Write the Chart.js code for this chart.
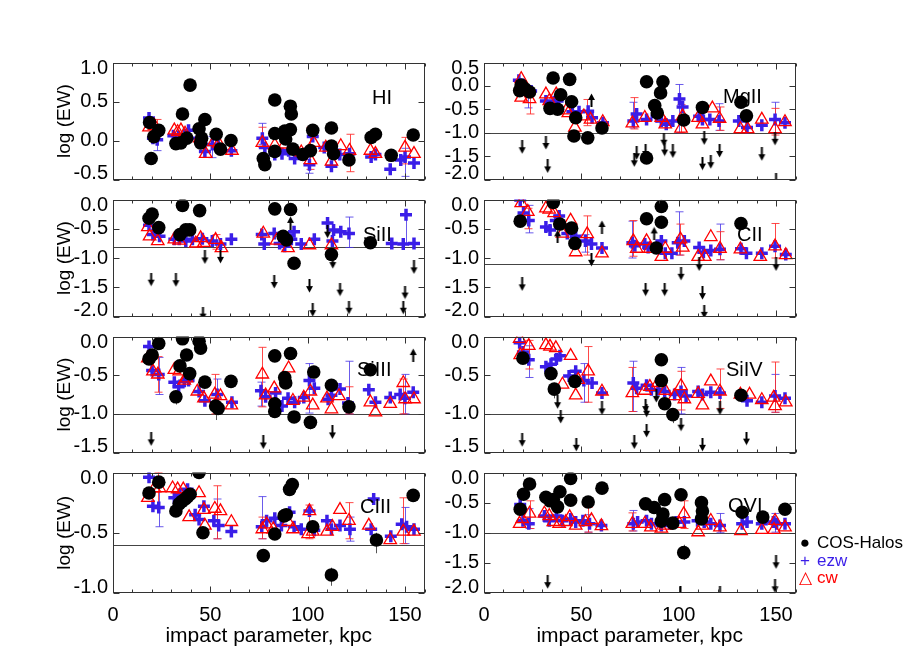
<!DOCTYPE html>
<html>
<head>
<meta charset="utf-8">
<script src="https://cdn.jsdelivr.net/npm/chart.js@4/dist/chart.umd.min.js"></script>
<style>
  html, body { margin: 0; padding: 0; background: #fff; }
  #fig { position: relative; width: 913px; height: 653px; overflow: hidden; font-family: 'Liberation Sans', Arial, Helvetica, sans-serif; }
  .ion { position: absolute; font-size: 20px; line-height: 20px; color: #000; white-space: nowrap; }
  .leg { position: absolute; font-size: 17px; line-height: 17px; white-space: nowrap; }
</style>
</head>
<body>
<div id="fig"></div>
<script>
// impact parameter (kpc) vs log(EW), one set of arrays per ion
const hiCos = [[18.8,0.23],[19.6,-0.23],[21,0.05],[23.5,0.13],[32.3,-0.04],[34.9,-0.03],[35.7,0.34],[37.9,0.03],[39.6,0.71],[44.2,0.15],[45.5,0.03],[45,-0.03],[47.2,0.27],[53,0.08],[55.2,-0.11],[60.6,0.0],[77.2,-0.23],[78,-0.31],[83.1,0.52],[83.1,0.09],[83.1,-0.14],[88.2,0.12],[88.7,0.02],[91.1,0.44],[91.6,0.34],[91.1,0.14],[92.4,-0.11],[97.5,-0.18],[101.4,-0.13],[102.6,0.13],[112.2,0.16],[112.2,-0.07],[113.3,-0.17],[121.2,-0.25],[132.6,0.04],[134.8,0.08],[142.9,-0.19],[154.2,0.07]];
const hiEzw = [[18.5,0.29],[20.5,0.03],[22.7,0.01],[31,0.06],[33.7,0.05],[38.8,0.13],[44.2,0.03],[47.2,-0.14],[51,-0.05],[54,-0.07],[60.8,-0.13],[76.7,0.03],[78,-0.09],[83.1,-0.18],[86.8,-0.17],[90.2,-0.13],[93.3,-0.23],[98.4,-0.17],[100.9,-0.31],[102.6,0.05],[108.5,-0.09],[112.2,-0.33],[116.5,-0.18],[121.5,-0.17],[132.6,-0.21],[134.8,-0.18],[142.4,-0.37],[147.8,-0.25],[150,-0.21],[154.6,-0.29]];
const hiCw = [[18.5,0.17],[21.3,0.19],[31.5,0.13],[33.2,0.11],[34.9,0.13],[37,0.09],[44.5,0.03],[47.6,-0.17],[51.8,-0.02],[54.3,-0.04],[61.1,-0.13],[76.7,-0.03],[83.1,-0.06],[88.2,-0.05],[96.7,-0.15],[101.4,-0.25],[103.1,-0.03],[109.3,-0.09],[112.2,-0.27],[117,-0.07],[121.5,-0.13],[132.2,-0.13],[134.8,-0.17],[150,-0.09],[154.6,-0.17]];
const hiEzwErr = [[22.7,-0.13,0.05],[51,-0.22,0.05],[76.7,-0.05,0.22],[100.9,-0.42,-0.2],[150,-0.46,-0.1]];
const hiCwErr = [[22.7,0.0,0.27],[76.7,-0.09,0.17],[101.4,-0.37,0.17],[121.5,-0.4,0.08],[150,-0.3,0.04]];

const mgCos = [[18.3,-0.10],[19.1,0.02],[21,-0.06],[23.4,-0.13],[33.9,-0.48],[35.5,0.17],[37.8,-0.50],[39.4,-0.19],[44,0.14],[45,-0.34],[46.2,-1.07],[47.1,-0.68],[53.3,-1.11],[60.6,-0.90],[83.5,0.09],[83.5,-1.54],[87.7,-0.42],[89,-0.58],[90.7,-0.15],[91.9,0.09],[102.6,-0.73],[112.2,-0.46],[132,-0.35],[134.8,-0.64]];
const mgEzw = [[17.9,0.12],[21.7,-0.05],[24.2,-0.11],[31.8,-0.32],[36,-0.34],[37.8,-0.32],[45.4,-0.55],[48.8,-0.55],[53.5,-0.54],[55.5,-0.68],[61.1,-0.79],[76.7,-0.75],[78.4,-0.60],[83.5,-0.72],[88.6,-0.65],[91.1,-0.75],[93.6,-0.82],[97,-0.75],[100.4,-0.28],[102,-0.45],[110.5,-0.65],[112.2,-0.72],[116,-0.72],[120.7,-0.75],[130.9,-0.75],[135.1,-0.89],[142.7,-0.84],[149.5,-0.72],[154.6,-0.79]];
const mgCw = [[19.1,0.15],[19.1,-0.25],[23.4,-0.28],[31.8,-0.18],[33.5,-0.32],[37.1,-0.18],[42.3,-0.52],[43.3,-0.58],[46.7,-0.89],[51.3,-0.65],[54.7,-0.72],[61,-0.77],[76.2,-0.80],[82.6,-0.68],[91.1,-0.68],[93.1,-0.82],[101.2,-0.91],[102,-0.65],[110,-0.68],[112.2,-0.82],[117.3,-0.48],[121,-0.70],[131.7,-0.92],[135.4,-0.92],[142.7,-0.72],[149.5,-0.92],[154.6,-0.77]];
const mgDown = [[19.6,-1.31],[31.8,-1.22],[32.7,-1.72],[77.2,-1.59],[78.4,-1.44],[83,-1.39],[92.4,-1.15],[92.8,-1.36],[97,-1.40],[112.2,-1.66],[113.1,-1.12],[116.5,-1.63],[121,-1.39],[142.7,-1.46],[149.5,-1.13],[150,-2.02]];
const mgUp = [[55.2,-0.30]];
const mgEzwErr = [[22.5,-0.47,0.0],[76.7,-0.9,-0.35],[100.4,-1.0,0.03],[120.7,-0.95,-0.38],[149.5,-1.0,-0.35]];
const mgCwErr = [[23.4,-0.6,-0.1],[53,-0.85,-0.29],[77.2,-0.92,-0.25],[101.2,-1.0,-0.4],[121,-0.95,-0.45],[149.5,-1.05,-0.48]];

const siiCos = [[18.5,-0.32],[20.1,-0.25],[23.5,-0.48],[34.4,-0.60],[35.7,-0.10],[37.4,-0.52],[39.4,-0.52],[44.5,-0.19],[83.1,-0.16],[87.4,-0.63],[89.1,-0.69],[91.2,-0.17],[93,-1.09],[112.2,-0.94],[132.2,-0.74]];
const siiEzw = [[18.5,-0.44],[20.5,-0.60],[23.9,-0.63],[31.5,-0.68],[34,-0.68],[37.4,-0.71],[40.8,-0.68],[45.9,-0.67],[51,-0.71],[55.2,-0.76],[60.8,-0.68],[76.4,-0.60],[77.7,-0.76],[82.8,-0.58],[85.6,-0.75],[88.2,-0.80],[91.6,-0.68],[93,-0.55],[96.7,-0.76],[103.4,-0.68],[110.2,-0.40],[112.7,-0.71],[113.3,-0.52],[117,-0.55],[121.2,-0.58],[143.2,-0.75],[149.1,-0.76],[150.5,-0.26],[154.6,-0.75]];
const siiCw = [[17.9,-0.47],[18.8,-0.63],[23,-0.71],[31.5,-0.68],[34,-0.70],[42.5,-0.75],[45,-0.66],[46.7,-0.74],[52.7,-0.69],[55.7,-0.83],[77.2,-0.58],[84,-0.70],[89.9,-0.83],[100.9,-0.78],[112.2,-0.78]];
const siiDown = [[19.6,-1.37],[32.3,-1.38],[46.2,-1.95],[47.2,-0.99],[55.2,-0.98],[82.8,-1.41],[100.9,-1.48],[102.6,-1.89],[110.2,-0.55],[112.9,-1.07],[116.6,-1.54],[121.2,-1.85],[150,-1.59],[149.1,-1.85],[154.6,-1.16]];
const siiUp = [[91.2,-0.40]];
const siiEzwErr = [[121.2,-0.82,-0.30],[150.5,-0.76,-0.26]];
const siiCwErr = [[52.7,-0.85,-0.6]];

const ciiCos = [[18.6,-0.37],[35.6,-0.05],[38.9,-0.42],[45,-0.49],[46.7,-0.75],[83.5,-0.33],[88.5,-0.83],[91.1,-0.12],[91.1,-0.39],[132,-0.41]];
const ciiEzw = [[18.6,-0.01],[20.3,-0.23],[23,-0.36],[31.8,-0.47],[33.9,-0.52],[36.9,-0.36],[38.6,-0.28],[42.8,-0.58],[47.1,-0.63],[52.1,-0.71],[55.2,-0.76],[60.6,-0.83],[76.2,-0.74],[77.5,-0.79],[82.6,-0.76],[84.3,-0.82],[91.1,-0.71],[93.1,-0.92],[96.5,-0.92],[99.5,-0.74],[102.9,-0.71],[110.5,-0.82],[112.7,-0.90],[116.5,-0.87],[121.2,-0.85],[132,-0.84],[134.8,-0.92],[142.7,-0.92],[149.5,-0.80],[155,-0.94]];
const ciiCw = [[19.1,-0.06],[22.5,-0.21],[31.8,-0.15],[33.5,-0.17],[36,-0.23],[40.3,-0.58],[44.5,-0.36],[47.1,-0.90],[53,-0.59],[60.6,-0.92],[76.7,-0.71],[78.4,-0.84],[83.5,-0.71],[85.2,-0.84],[91.1,-0.98],[93.1,-0.84],[100.9,-0.68],[102.1,-0.82],[110,-0.98],[113.4,-0.98],[116.5,-0.64],[121.2,-0.84],[131.7,-0.85],[141.9,-0.98],[149.5,-0.80],[155,-0.95]];
const ciiDown = [[19.6,-1.45],[55.2,-1.03],[83,-1.54],[92.8,-1.54],[101.2,-1.27],[110.5,-1.11],[112.2,-1.60],[113.1,-1.92],[150,-1.11]];
const ciiUp = [[37.8,-0.63],[60.6,-0.47],[87.4,-0.58]];
const ciiEzwErr = [[23,-0.57,-0.1],[52.1,-0.9,-0.6],[76.2,-1.0,-0.37],[100.4,-0.95,-0.21],[121.2,-1.03,-0.42]];
const ciiCwErr = [[22.5,-0.5,-0.15],[53,-0.95,-0.28],[76.7,-0.97,-0.36],[100.9,-0.95,-0.42],[121.2,-1.03,-0.55],[149.5,-1.0,-0.41]];

const siiiCos = [[18.5,-0.29],[20.1,-0.24],[23.5,-0.09],[32.3,-0.78],[34.4,-0.38],[35.7,-0.03],[37.8,-0.24],[39.4,-0.48],[44.2,-0.06],[45,-0.15],[47.2,-0.59],[52.7,-0.90],[54,-0.93],[60.6,-0.58],[83.1,-0.87],[83.1,-0.97],[83.1,-0.25],[88.2,-0.53],[88.7,-0.60],[91.2,-0.22],[93,-1.04],[101.4,-1.11],[103.1,-0.46],[112.2,-0.63],[121.2,-0.91],[132.2,-0.43]];
const siiiEzw = [[18.5,-0.13],[20.1,-0.44],[23.5,-0.49],[31.5,-0.59],[33.7,-0.65],[36.6,-0.58],[38.8,-0.57],[44.2,-0.71],[47.2,-0.83],[53.5,-0.75],[61.1,-0.85],[76,-0.70],[78.4,-0.78],[83.5,-0.73],[86.8,-0.90],[89.9,-0.80],[93.3,-0.85],[98,-0.79],[100.9,-0.57],[103.4,-0.67],[110.5,-0.81],[112.2,-0.76],[116.6,-0.68],[120.7,-0.86],[131.4,-0.69],[134.8,-0.85],[142.4,-0.79],[147.5,-0.75],[150,-0.80],[154.2,-0.72]];
const siiiCw = [[17.9,-0.28],[20.5,-0.45],[23,-0.49],[31.5,-0.43],[34,-0.45],[36.6,-0.57],[37.8,-0.54],[43.3,-0.71],[46.7,-0.80],[52.3,-0.75],[55.2,-0.77],[60.8,-0.89],[76.7,-0.49],[78.4,-0.76],[82.8,-0.67],[90.2,-0.41],[92.4,-0.83],[98,-0.79],[101.4,-0.71],[102.6,-0.89],[109.9,-0.80],[112.2,-0.94],[116.1,-0.77],[132.2,-0.85],[134.8,-0.98],[142.4,-0.87],[149.1,-0.60],[150,-0.81],[154.6,-0.81]];
const siiiDown = [[19.6,-1.33],[77.2,-1.37],[112.7,-1.24]];
const siiiUp = [[154.2,-0.24]];
const siiiEzwErr = [[23.5,-0.75,-0.27],[53.5,-0.95,-0.55],[76,-0.9,-0.59],[100.9,-0.99,-0.35],[121.2,-1.0,-0.32],[150,-1.0,-0.49]];
const siiiCwErr = [[23,-0.72,-0.26],[52.3,-1.0,-0.49],[76.7,-0.91,-0.14],[121.2,-1.0,-0.65],[149.1,-1.0,-0.55]];
const siiiCosErr = [[32.3,-0.88,-0.7],[52.7,-1.08,-0.85],[93,-1.12,-0.98],[101.4,-1.2,-1.05]];

const siivCos = [[20,-0.28],[34.4,-0.48],[36.1,-0.68],[46.7,-0.58],[91.1,-0.30],[91.1,-0.57],[92.8,-0.87],[97,-1.01],[132,-0.76]];
const siivEzw = [[18.3,-0.08],[20,-0.20],[23,-0.30],[31.8,-0.39],[34.4,-0.36],[37.2,-0.29],[39,-0.25],[43.7,-0.51],[47.1,-0.45],[51.3,-0.57],[55.5,-0.60],[60.6,-0.73],[76.7,-0.60],[78.4,-0.67],[83.5,-0.63],[86,-0.69],[89.4,-0.69],[92.8,-0.71],[97.9,-0.75],[101.2,-0.71],[103.8,-0.77],[110,-0.71],[112.2,-0.75],[116.5,-0.72],[121.2,-0.73],[135.1,-0.83],[142.7,-0.85],[149.5,-0.77],[154.6,-0.80]];
const siivCw = [[18.3,-0.03],[18.6,-0.24],[23,-0.12],[31.8,-0.11],[33.9,-0.13],[36.9,-0.15],[40.3,-0.62],[44.5,-0.25],[47.1,-0.76],[48.4,-0.56],[53.5,-0.45],[60.6,-0.71],[76.2,-0.73],[82.6,-0.70],[85.2,-0.65],[89.4,-0.60],[93.1,-0.70],[97.9,-0.77],[101.2,-0.64],[102.9,-0.81],[110,-0.74],[112.2,-0.89],[116.5,-0.58],[121.2,-0.71],[131.7,-0.75],[136.4,-0.75],[142.7,-0.82],[148.8,-0.79],[149.5,-0.90],[155,-0.85]];
const siivDown = [[19.6,-1.34],[37.8,-0.85],[39.4,-1.04],[47.4,-1.40],[60.6,-0.93],[77.2,-1.37],[83,-0.90],[83.5,-0.96],[83.5,-1.22],[88.5,-0.77],[101.2,-1.14],[112.2,-1.40],[121.2,-0.93],[134.8,-1.32]];
const siivEzwErr = [[23,-0.53,-0.12],[51.3,-0.85,-0.35],[76.7,-0.97,-0.32],[101.2,-1.0,-0.4],[149.5,-0.98,-0.49]];
const siivCwErr = [[23,-0.42,-0.05],[53.5,-0.85,-0.13],[76.2,-0.97,-0.4],[101.2,-0.95,-0.45],[121.2,-0.93,-0.42],[149.5,-0.98,-0.33]];
const siivCosErr = [[36.1,-0.8,-0.6],[97,-1.12,-0.95]];

const ciiiCos = [[18.5,-0.17],[23.5,-0.08],[32.3,-0.32],[34,-0.26],[35.4,-0.24],[37.1,-0.22],[38.3,-0.20],[39.6,-0.18],[44.2,0.0],[46.2,-0.50],[77.2,-0.69],[83.1,-0.51],[87.9,-0.36],[89,-0.35],[90.7,-0.14],[92.1,-0.10],[102.6,-0.45],[112.2,-0.85],[135.3,-0.56],[154.2,-0.19]];
const ciiiEzw = [[18.5,-0.04],[20.5,-0.28],[23.5,-0.29],[31.5,-0.21],[34.4,-0.18],[36.6,-0.21],[38.3,-0.14],[42.2,-0.35],[44.2,-0.39],[46.7,-0.28],[51.8,-0.40],[54.3,-0.44],[60.8,-0.49],[76.4,-0.45],[78.9,-0.40],[83.1,-0.38],[86.5,-0.44],[90.7,-0.33],[93,-0.45],[96.7,-0.47],[100.9,-0.32],[103.4,-0.48],[109.9,-0.40],[112.2,-0.47],[116.6,-0.44],[121.7,-0.47],[132.6,-0.47],[133.9,-0.22],[142.7,-0.53],[148.3,-0.43],[150.8,-0.45],[154.6,-0.47]];
const ciiiCw = [[17.9,-0.21],[21.3,-0.13],[23.9,-0.13],[30.6,-0.13],[33.2,-0.14],[36.1,-0.14],[39.1,-0.37],[44.2,-0.17],[46.7,-0.31],[47.2,-0.44],[52.3,-0.30],[55.2,-0.32],[60.8,-0.41],[76.7,-0.47],[78.9,-0.43],[82.3,-0.47],[89.9,-0.41],[92.4,-0.47],[100.2,-0.51],[100.9,-0.32],[102.6,-0.49],[109.9,-0.49],[112.7,-0.45],[116.6,-0.31],[121.2,-0.40],[131.4,-0.44],[142.4,-0.56],[149.1,-0.49],[154.6,-0.49]];
const ciiiEzwErr = [[23.5,-0.45,-0.05],[53.5,-0.55,-0.22],[76.4,-0.55,-0.2],[121.7,-0.57,-0.37],[150,-0.59,-0.29]];
const ciiiCwErr = [[23,-0.3,0.0],[53.2,-0.55,-0.11],[76.7,-0.55,-0.37],[100.9,-0.55,-0.27],[121.2,-0.55,-0.25],[149.1,-0.59,-0.21]];
const ciiiCosErr = [[112.2,-0.94,-0.79],[135.3,-0.67,-0.5]];

const oviCos = [[18.6,-0.61],[20.3,-0.36],[23.4,-0.19],[31.8,-0.41],[33.9,-0.47],[35.6,-0.45],[37.8,-0.57],[39,-0.32],[44.5,-0.10],[44.5,-0.46],[53.5,-0.49],[60.6,-0.26],[83,-0.52],[87.4,-0.58],[91.1,-0.81],[91.9,-0.69],[92.8,-0.45],[97,-0.84],[101.2,-0.37],[102.6,-1.33],[111.7,-0.50],[112.2,-0.64],[111.7,-0.77],[132.6,-0.66],[143.2,-0.74],[154.6,-0.61]];
const oviEzw = [[18.6,-0.53],[20,-0.80],[23,-0.85],[31,-0.72],[33.5,-0.80],[37.2,-0.72],[40.3,-0.80],[44.5,-0.77],[47.1,-0.82],[50.8,-0.80],[54.2,-0.85],[60.3,-0.88],[76.7,-0.85],[78.9,-0.82],[83.5,-0.80],[86,-0.85],[91.1,-0.88],[95.3,-0.85],[98.7,-0.82],[102.9,-0.82],[109.7,-0.80],[113.1,-0.82],[116.5,-0.85],[121.2,-0.88],[132.6,-0.85],[135.1,-0.82],[142.7,-0.85],[148.6,-0.82],[150.3,-0.85],[154.6,-0.85]];
const oviCw = [[18.3,-0.85],[19.6,-0.77],[23.4,-0.68],[31,-0.68],[33.5,-0.72],[35.6,-0.82],[38.6,-0.85],[42,-0.82],[44,-0.74],[47.1,-0.88],[52.1,-0.82],[55.2,-0.79],[60.3,-0.89],[76.2,-0.85],[82.6,-0.85],[85.7,-0.91],[91.1,-0.93],[93.1,-0.88],[100.4,-0.85],[102.6,-0.69],[110,-0.99],[112.2,-0.88],[116.5,-0.80],[121.2,-0.91],[132,-0.97],[142.7,-0.95],[149,-0.95],[149.5,-0.80],[154.6,-0.91]];
const oviDown = [[32.7,-1.82],[100.9,-2.0],[121.2,-2.0],[150,-1.49],[149.5,-1.89]];
const oviEzwErr = [[23,-0.93,-0.6],[53.5,-0.99,-0.7],[76.7,-0.97,-0.63],[121.2,-1.0,-0.68],[149.5,-0.99,-0.68]];
const oviCwErr = [[23.4,-0.93,-0.47],[53.5,-0.99,-0.58],[76.2,-0.97,-0.67],[102.6,-0.93,-0.47]];
const oviCosErr = [[102.6,-1.45,-1.2]];

const panels = [
  { ion: 'HI',    row: 0, col: 0, yMin: -0.5, yMax: 1.0, hLine: null,  cos: hiCos,   ezw: hiEzw,   cw: hiCw,   down: [],       up: [],     ezwErr: hiEzwErr,   cwErr: hiCwErr,   cosErr: [] },
  { ion: 'MgII',  row: 0, col: 1, yMin: -2.0, yMax: 0.5, hLine: -1.0,  cos: mgCos,   ezw: mgEzw,   cw: mgCw,   down: mgDown,   up: mgUp,   ezwErr: mgEzwErr,   cwErr: mgCwErr,   cosErr: [] },
  { ion: 'SiII',  row: 1, col: 0, yMin: -2.0, yMax: 0.0, hLine: -0.82, cos: siiCos,  ezw: siiEzw,  cw: siiCw,  down: siiDown,  up: siiUp,  ezwErr: siiEzwErr,  cwErr: siiCwErr,  cosErr: [] },
  { ion: 'CII',   row: 1, col: 1, yMin: -2.0, yMax: 0.0, hLine: -1.1,  cos: ciiCos,  ezw: ciiEzw,  cw: ciiCw,  down: ciiDown,  up: ciiUp,  ezwErr: ciiEzwErr,  cwErr: ciiCwErr,  cosErr: [] },
  { ion: 'SiIII', row: 2, col: 0, yMin: -1.5, yMax: 0.0, hLine: -1.0,  cos: siiiCos, ezw: siiiEzw, cw: siiiCw, down: siiiDown, up: siiiUp, ezwErr: siiiEzwErr, cwErr: siiiCwErr, cosErr: siiiCosErr },
  { ion: 'SiIV',  row: 2, col: 1, yMin: -1.5, yMax: 0.0, hLine: -1.0,  cos: siivCos, ezw: siivEzw, cw: siivCw, down: siivDown, up: [],     ezwErr: siivEzwErr, cwErr: siivCwErr, cosErr: siivCosErr },
  { ion: 'CIII',  row: 3, col: 0, yMin: -1.0, yMax: 0.0, hLine: -0.605, cos: ciiiCos, ezw: ciiiEzw, cw: ciiiCw, down: [],      up: [],     ezwErr: ciiiEzwErr, cwErr: ciiiCwErr, cosErr: ciiiCosErr },
  { ion: 'OVI',   row: 3, col: 1, yMin: -2.0, yMax: 0.0, hLine: -1.0,  cos: oviCos,  ezw: oviEzw,  cw: oviCw,  down: oviDown,  up: [],     ezwErr: oviEzwErr,  cwErr: oviCwErr,  cosErr: oviCosErr }
];

// ion label positions (left, centre y)
const ionPos = { HI: [372, 97], MgII: [723, 96], SiII: [363, 234], CII: [737, 234], SiIII: [357, 369], SiIV: [726, 369], CIII: [360, 506], OVI: [728, 505] };

const BLUE = '#3a1ee8';
const RED = '#ff0000';
const rowTop = [59, 196, 333, 469];
const rowBottom = [183, 320, 456, 593];
const colLeft = [40, 430];
const plotLeft = [113, 484];
const plotRight = [428, 799];

Chart.defaults.font.family = "'Liberation Sans', Arial, Helvetica, sans-serif";
Chart.defaults.color = '#000';

function arrowImage(up) {
  const c = document.createElement('canvas');
  c.width = 9; c.height = 14;
  const g = c.getContext('2d');
  if (up) { g.translate(0, 14); g.scale(1, -1); }
  g.strokeStyle = '#000';
  g.lineWidth = 2;
  g.beginPath(); g.moveTo(4.5, 0); g.lineTo(4.5, 9); g.stroke();
  g.fillStyle = '#000';
  g.beginPath(); g.moveTo(1, 7); g.lineTo(8, 7); g.lineTo(4.5, 13.5); g.closePath(); g.fill();
  return c;
}
const arrowDown = arrowImage(false);
const arrowUp = arrowImage(true);

const panelDeco = {
  id: 'panelDeco',
  beforeDatasetsDraw(chart, args, opts) {
    const { ctx, chartArea: a, scales: { x, y } } = chart;
    ctx.save();
    ctx.beginPath();
    ctx.rect(a.left, a.top, a.right - a.left, a.bottom - a.top);
    ctx.clip();
    if (opts.hLine != null) {
      const py = Math.round(y.getPixelForValue(opts.hLine)) + 0.5;
      ctx.strokeStyle = '#444';
      ctx.lineWidth = 1;
      ctx.beginPath(); ctx.moveTo(a.left, py); ctx.lineTo(a.right, py); ctx.stroke();
    }
    const bars = (list, color, cap) => {
      ctx.strokeStyle = color;
      ctx.lineWidth = 1;
      list.forEach(([vx, lo, hi]) => {
        const px = Math.round(x.getPixelForValue(vx)) + 0.5;
        const p1 = y.getPixelForValue(lo), p2 = y.getPixelForValue(hi);
        ctx.beginPath();
        ctx.moveTo(px, p1); ctx.lineTo(px, p2);
        if (cap) {
          ctx.moveTo(px - cap, p1); ctx.lineTo(px + cap, p1);
          ctx.moveTo(px - cap, p2); ctx.lineTo(px + cap, p2);
        }
        ctx.stroke();
      });
    };
    bars(opts.ezwErr || [], 'rgba(70,50,230,0.8)', 4);
    bars(opts.cwErr || [], 'rgba(255,40,40,0.85)', 4);
    bars(opts.cosErr || [], '#555', 0);
    ctx.restore();
  },
  afterDraw(chart) {
    const { ctx, chartArea: a, scales: { x, y } } = chart;
    ctx.save();
    ctx.strokeStyle = '#333';
    ctx.lineWidth = 1;
    const l = Math.round(a.left) + 0.5, r = Math.round(a.right) - 0.5;
    const t = Math.round(a.top) + 0.5, b = Math.round(a.bottom) - 0.5;
    ctx.strokeRect(l, t, r - l, b - t);
    ctx.beginPath();
    for (let v = 0; v <= 160; v += 10) {
      const px = Math.round(x.getPixelForValue(v)) + 0.5;
      const len = v % 50 === 0 ? 6 : 3;
      ctx.moveTo(px, b); ctx.lineTo(px, b - len);
      ctx.moveTo(px, t); ctx.lineTo(px, t + len);
    }
    for (let v = y.min; v <= y.max + 1e-9; v += 0.5) {
      const py = Math.round(y.getPixelForValue(v)) + 0.5;
      ctx.moveTo(l, py); ctx.lineTo(l + 6, py);
      ctx.moveTo(r, py); ctx.lineTo(r - 6, py);
    }
    ctx.stroke();
    ctx.restore();
  }
};

const pts = (arr) => arr.map(([x, y]) => ({ x, y }));

function makeChart(p) {
  const fig = document.getElementById('fig');
  const bottomRow = p.row === 3;
  const left = colLeft[p.col];
  const top = rowTop[p.row] - 6;
  const width = plotRight[p.col] - left + 6;
  const height = bottomRow ? 653 - top : (rowBottom[p.row] - rowTop[p.row]) + 12;
  const yAxisWidth = plotLeft[p.col] - left;

  const canvas = document.createElement('canvas');
  canvas.width = width;
  canvas.height = height;
  canvas.style.cssText = `position:absolute;left:${left}px;top:${top}px;width:${width}px;height:${height}px;`;
  fig.appendChild(canvas);

  // first and last y labels are pulled inside the box, like the original
  const isEnd = (c) => {
    const ticks = c && c.scale && c.scale.ticks;
    if (!ticks || typeof c.index !== 'number') return false;
    return c.index === 0 || c.index === ticks.length - 1;
  };

  new Chart(canvas.getContext('2d'), {
    type: 'scatter',
    data: {
      datasets: [
        { label: 'down', data: pts(p.down), pointStyle: arrowDown, pointRadius: 6, order: 0 },
        { label: 'up', data: pts(p.up), pointStyle: arrowUp, pointRadius: 6, order: 0 },
        { label: 'COS-Halos', data: pts(p.cos), pointStyle: 'circle', pointRadius: 6.8,
          pointBackgroundColor: '#000', pointBorderColor: '#000', pointBorderWidth: 0, order: 1 },
        { label: 'cw', data: pts(p.cw), pointStyle: 'triangle', pointRadius: 7.2,
          pointBackgroundColor: 'rgba(0,0,0,0)', pointBorderColor: RED, pointBorderWidth: 1.3, order: 2 },
        { label: 'ezw', data: pts(p.ezw), pointStyle: 'cross', pointRadius: 6,
          pointBorderColor: BLUE, pointBorderWidth: 3.5, order: 3 }
      ]
    },
    options: {
      responsive: false,
      animation: false,
      devicePixelRatio: 1,
      events: [],
      layout: { padding: { top: 6, right: 6, bottom: bottomRow ? 0 : 6, left: 0 } },
      plugins: {
        legend: { display: false },
        tooltip: { enabled: false },
        panelDeco: { hLine: p.hLine, ezwErr: p.ezwErr, cwErr: p.cwErr, cosErr: p.cosErr }
      },
      scales: {
        x: {
          type: 'linear',
          min: 0,
          max: 160,
          display: bottomRow,
          grid: { display: false, drawTicks: false },
          border: { display: false },
          ticks: { stepSize: 50, includeBounds: false, padding: 10, maxRotation: 0, autoSkip: false,
                   font: { size: 20 }, callback: (v) => String(v) },
          title: { display: true, text: 'impact parameter, kpc', font: { size: 21 }, padding: { top: 0, bottom: 4 } },
          afterFit: (s) => { if (bottomRow) s.height = 60; s.paddingLeft = 0; s.paddingRight = 0; }
        },
        y: {
          type: 'linear',
          min: p.yMin,
          max: p.yMax,
          grid: { display: false, drawTicks: false },
          border: { display: false },
          ticks: {
            stepSize: 0.5,
            autoSkip: false,
            padding: 5,
            font: (c) => ({ size: 20, lineHeight: isEnd(c) ? 0.6 : 1.2 }),
            callback: (v, i, ticks) => {
              const s = Math.abs(v) < 1e-9 ? '0.0' : v.toFixed(1);
              if (!ticks) return s;
              if (i === 0) return [s, ''];
              if (i === ticks.length - 1) return ['', s];
              return s;
            }
          },
          title: { display: p.col === 0, text: 'log (EW)', font: { size: 19 }, padding: { top: 13, bottom: 0 } },
          afterFit: (s) => { s.width = yAxisWidth; s.paddingTop = 0; s.paddingBottom = 0; }
        }
      }
    },
    plugins: [panelDeco]
  });

  const lab = document.createElement('div');
  lab.className = 'ion';
  lab.textContent = p.ion;
  lab.style.left = ionPos[p.ion][0] + 'px';
  lab.style.top = (ionPos[p.ion][1] - 10) + 'px';
  fig.appendChild(lab);
}

panels.forEach(makeChart);

// legend, bottom right
const legendItems = [
  { mark: '●', text: 'COS-Halos', color: '#000', y: 543 },
  { mark: '+', text: 'ezw', color: BLUE, y: 561 },
  { mark: '△', text: 'cw', color: RED, y: 578 }
];
legendItems.forEach((it) => {
  const fig = document.getElementById('fig');
  const m = document.createElement('div');
  m.className = 'leg';
  m.style.cssText += `left:798px;top:${it.y - 9}px;width:14px;text-align:center;color:${it.color};`;
  m.textContent = it.mark;
  fig.appendChild(m);
  const t = document.createElement('div');
  t.className = 'leg';
  t.style.cssText += `left:817px;top:${it.y - 9}px;color:${it.color};`;
  t.textContent = it.text;
  fig.appendChild(t);
});
</script>
</body>
</html>
